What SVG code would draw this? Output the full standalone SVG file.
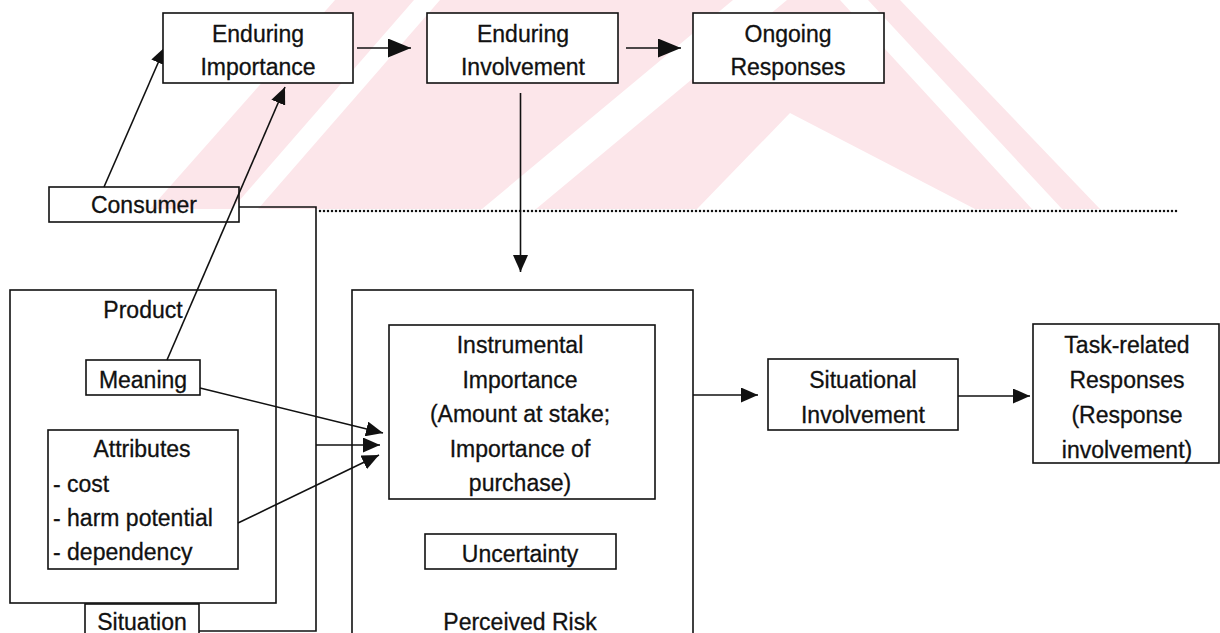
<svg xmlns="http://www.w3.org/2000/svg" width="1220" height="633" viewBox="0 0 1220 633">
<style>
.box{fill:none;stroke:#111;stroke-width:1.6}
.wbox{fill:#fff;stroke:#111;stroke-width:1.6}
.t{font-family:"Liberation Sans",Arial,Helvetica,sans-serif;font-size:23px;fill:#111;stroke:#111;stroke-width:0.3;text-anchor:middle}
.tl{font-family:"Liberation Sans",Arial,Helvetica,sans-serif;font-size:23px;fill:#111;stroke:#111;stroke-width:0.3;text-anchor:start}
.c{fill:none;stroke:#111;stroke-width:1.6}
.wm{fill:#fce6ea}
.wg{fill:#fff}
</style>
<defs>
<marker id="ahb" viewBox="0 0 10 10" refX="10" refY="5" markerUnits="userSpaceOnUse" markerWidth="23" markerHeight="19" preserveAspectRatio="none" orient="auto"><path d="M0,0 L10,5 L0,10 z" fill="#111"/></marker>
<marker id="ah" viewBox="0 0 10 10" refX="10" refY="5" markerUnits="userSpaceOnUse" markerWidth="17" markerHeight="15" preserveAspectRatio="none" orient="auto"><path d="M0,0 L10,5 L0,10 z" fill="#111"/></marker>
</defs>
<rect width="1220" height="633" fill="#fff"/>
<g id="watermark">
<polygon class="wm" points="150,209 335,0 900,0 1100,209"/>
<polygon class="wg" points="232,209 258,209 440,0 414,0"/>
<polygon class="wg" points="482,209 536,209 787,0 733,0"/>
<polygon class="wg" points="697,209 790,113 975,209"/>
<polygon class="wg" points="840,0 868,0 1062,209 1032,209"/>
</g>
<g id="connectors">
<line class="c" x1="357" y1="48" x2="411" y2="48" marker-end="url(#ahb)"/>
<line class="c" x1="626" y1="48" x2="681" y2="48" marker-end="url(#ahb)"/>
<line class="c" x1="520.5" y1="93" x2="520.5" y2="272" stroke-width="1.3" marker-end="url(#ah)"/>
<line x1="320" y1="211" x2="1178" y2="211" stroke="#111" stroke-width="2.5" stroke-linecap="round" stroke-dasharray="0 4"/>
<line class="c" x1="104" y1="187" x2="165" y2="47" marker-end="url(#ah)"/>
<line class="c" x1="167" y1="360" x2="285" y2="87" marker-end="url(#ah)"/>
<polyline class="c" points="239,207 316,207 316,631 199,631"/>
<line class="c" x1="316" y1="445" x2="380" y2="445" marker-end="url(#ah)"/>
<line class="c" x1="200" y1="388" x2="383" y2="433" marker-end="url(#ah)"/>
<line class="c" x1="238" y1="523" x2="379" y2="455" marker-end="url(#ah)"/>
<line class="c" x1="693" y1="395" x2="758" y2="395" marker-end="url(#ah)"/>
<line class="c" x1="958" y1="396" x2="1030" y2="396" marker-end="url(#ah)"/>
</g>
<g id="enduring-importance">
<rect class="wbox" x="163" y="13" width="190" height="70"/>
<text class="t" x="258" y="42">Enduring</text>
<text class="t" x="258" y="75">Importance</text>
</g>
<g id="enduring-involvement">
<rect class="wbox" x="427" y="13" width="191" height="70"/>
<text class="t" x="523" y="42">Enduring</text>
<text class="t" x="523" y="75">Involvement</text>
</g>
<g id="ongoing-responses">
<rect class="wbox" x="693" y="13" width="191" height="70"/>
<text class="t" x="788" y="42">Ongoing</text>
<text class="t" x="788" y="75">Responses</text>
</g>
<g id="consumer">
<rect class="box" x="49" y="187" width="190" height="35"/>
<text class="t" x="144" y="213">Consumer</text>
</g>
<g id="product">
<rect class="box" x="10" y="290" width="266" height="313"/>
<text class="t" x="143" y="318">Product</text>
</g>
<g id="meaning">
<rect class="box" x="86" y="360" width="114" height="35"/>
<text class="t" x="143" y="388">Meaning</text>
</g>
<g id="attributes">
<rect class="box" x="48" y="430" width="190" height="139"/>
<text class="t" x="142" y="457">Attributes</text>
<text class="tl" x="53" y="492">- cost</text>
<text class="tl" x="53" y="526">- harm potential</text>
<text class="tl" x="53" y="560">- dependency</text>
</g>
<g id="situation">
<rect class="box" x="85" y="604" width="114" height="40"/>
<text class="t" x="142" y="630">Situation</text>
</g>
<g id="perceived-risk">
<rect class="box" x="352" y="290" width="341" height="360"/>
<text class="t" x="520" y="630">Perceived Risk</text>
</g>
<g id="instrumental-importance">
<rect class="box" x="389" y="325" width="266" height="174"/>
<text class="t" x="520" y="353">Instrumental</text>
<text class="t" x="520" y="388">Importance</text>
<text class="t" x="520" y="422">(Amount at stake;</text>
<text class="t" x="520" y="457">Importance of</text>
<text class="t" x="520" y="491">purchase)</text>
</g>
<g id="uncertainty">
<rect class="box" x="425" y="534" width="191" height="35"/>
<text class="t" x="520" y="562">Uncertainty</text>
</g>
<g id="situational-involvement">
<rect class="box" x="768" y="359" width="190" height="71"/>
<text class="t" x="863" y="388">Situational</text>
<text class="t" x="863" y="423">Involvement</text>
</g>
<g id="task-related-responses">
<rect class="box" x="1033" y="324" width="186" height="139"/>
<text class="t" x="1127" y="353">Task-related</text>
<text class="t" x="1127" y="388">Responses</text>
<text class="t" x="1127" y="423">(Response</text>
<text class="t" x="1127" y="458">involvement)</text>
</g>
</svg>
